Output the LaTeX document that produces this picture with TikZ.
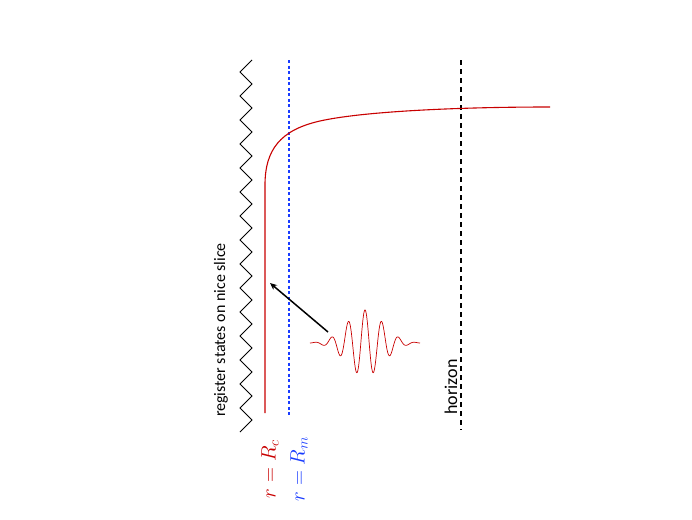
\documentclass[tikz,border=0pt]{standalone}
\usepackage{fontspec}
\setsansfont{Carlito}
\usetikzlibrary{arrows.meta}
\definecolor{myred}{RGB}{200,0,0}
\definecolor{myblue}{RGB}{25,60,255}
\tikzset{
  wall/.style={line width=0.8pt, black, line join=miter},
  redline/.style={line width=1.1pt, myred},
  blueline/.style={line width=1.6pt, myblue, dash pattern=on 3pt off 2.5pt},
  horizonline/.style={line width=1.6pt, black, dash pattern=on 5pt off 4pt},
  lbl/.style={rotate=90, font=\sffamily\fontsize{16}{19}\selectfont},
  biglbl/.style={rotate=90, font=\sffamily\fontsize{18}{21}\selectfont},
  mathlbl/.style={rotate=90, font=\fontsize{20}{24}\selectfont}
}
\begin{document}
\begin{tikzpicture}[x=1pt,y=-1pt]
\useasboundingbox (0,0) rectangle (692,519);
% zigzag wall
\draw[wall] (252,60)
  \foreach \k in {0,...,14} { -- (240,{72+24*\k}) -- (252,{84+24*\k}) } -- (240,432);
% dotted blue line
\draw[blueline] (289,60) -- (289,415);
% horizon
\draw[horizonline] (461,60) -- (461,430);
% red curve
\draw[redline] (265,413) -- (265,185) .. controls (265,150) and (280,130) .. (320,121)
  .. controls (360,112) and (450,107) .. (550,107);
% wave packet
\draw[myred, line width=0.7pt, domain=-55:55, samples=300, smooth]
  plot ({365+\x}, {343 - 33*exp(-\x*\x/648)*cos(21.557*\x)});
% arrow
\coordinate (src) at (328,332);
\coordinate (dst) at (270,283);
\draw[line width=1.5pt, -{Stealth[length=7pt,width=6pt]}] (src) -- (dst);
% labels
\node[lbl] (reg) at (221,330) {register states on nice slice};
\node[biglbl] (hor) at (451,387) {horizon};
\node[mathlbl, text=myred] (rc) at (270,469) {$r = R_c$};
\node[mathlbl, text=myblue] (rm) at (299,469) {$r = R_m$};
\end{tikzpicture}
\end{document}
